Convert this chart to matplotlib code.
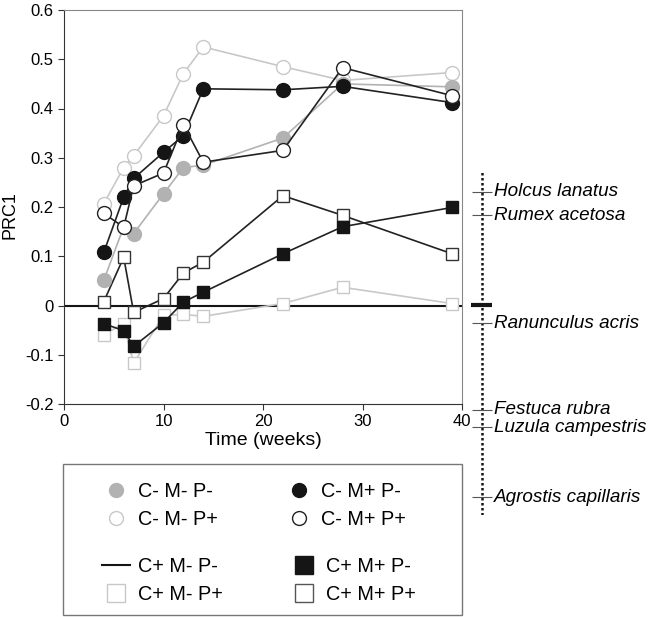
import matplotlib
matplotlib.use("Agg")
import matplotlib.pyplot as plt
from matplotlib.lines import Line2D
from matplotlib.patches import Rectangle

plt.rcParams["font.family"] = ["Liberation Sans", "DejaVu Sans"]

# sampling times (weeks)
weeks = [4, 6, 7, 10, 12, 14, 22, 28, 39]

# PRC1 scores per treatment (C+ M- P- is the reference, i.e. zero)
c0_m0_p0 = [0.051, 0.160, 0.146, 0.227, 0.280, 0.285, 0.340, 0.450, 0.444]
c0_m0_p1 = [0.207, 0.280, 0.304, 0.385, 0.471, 0.525, 0.485, 0.457, 0.473]
c0_m1_p0 = [0.108, 0.220, 0.258, 0.311, 0.345, 0.440, 0.438, 0.445, 0.412]
c0_m1_p1 = [0.187, 0.159, 0.243, 0.269, 0.367, 0.291, 0.315, 0.483, 0.426]
c1_m0_p1 = [-0.059, -0.037, -0.117, -0.020, -0.018, -0.022, 0.004, 0.037, 0.004]
c1_m1_p0 = [-0.037, -0.051, -0.083, -0.035, 0.007, 0.027, 0.105, 0.160, 0.199]
c1_m1_p1 = [0.008, 0.098, -0.014, 0.014, 0.066, 0.088, 0.223, 0.183, 0.105]

# species weights on the PRC1 axis
species = ["Holcus lanatus", "Rumex acetosa", "Ranunculus acris",
           "Festuca rubra", "Luzula campestris", "Agrostis capillaris"]
species_w = [1.13, 0.90, -0.18, -1.05, -1.22, -1.92]

W, H = 651, 617
fig = plt.figure(figsize=(W / 100, H / 100), dpi=100)
ax = fig.add_axes([64 / W, (H - 404) / H, 398 / W, 394 / H])

LG = "#c8c8c8"   # light grey
MG = "#b2b2b2"   # mid grey
BK = "#151515"

circ = dict(marker="o", ms=10, mew=1.0, lw=1.2)
sq = dict(marker="s", ms=8, mew=1.0, lw=1.2)

ax.axhline(0, color=BK, lw=1.5, zorder=2)
ax.plot(weeks, c1_m0_p1, color=LG, mfc="white", mec=LG, zorder=3, **sq)
ax.plot(weeks, c1_m1_p1, color="#222222", mfc="white", mec="#333333", zorder=4, **sq)
ax.plot(weeks, c1_m1_p0, color="#222222", mfc=BK, mec=BK, zorder=5, **sq)
ax.plot(weeks, c0_m0_p1, color=LG, mfc="white", mec=LG, zorder=3, **circ)
ax.plot(weeks, c0_m0_p0, color=MG, mfc=MG, mec=MG, zorder=4, **circ)
ax.plot(weeks, c0_m1_p0, color="#222222", mfc=BK, mec=BK, zorder=5, **circ)
ax.plot(weeks, c0_m1_p1, color="#222222", mfc="white", mec="#222222", zorder=6, **circ)

ax.set_xlim(0, 40)
ax.set_ylim(-0.2, 0.6)
ax.set_xticks([0, 10, 20, 30, 40])
ax.set_yticks([-0.2, -0.1, 0, 0.1, 0.2, 0.3, 0.4, 0.5, 0.6])
ax.set_yticklabels(["-0.2", "-0.1", "0", "0.1", "0.2", "0.3", "0.4", "0.5", "0.6"])
ax.tick_params(labelsize=12, length=4, width=0.8, color="#333333")
ax.set_xlabel("Time (weeks)", fontsize=14, labelpad=2)
ax.set_ylabel("PRC1", fontsize=13)
ax.yaxis.set_label_coords((18 - 64) / 398, (404 - 215) / 394)
for s in ("left", "bottom"):
    ax.spines[s].set_color("#333333")
for s in ("top", "right"):
    ax.spines[s].set_color("#888888")

# species weight axis on the right
sp = fig.add_axes([470 / W, (H - 515) / H, 181 / W, 345 / H])
sp.set_xlim(0, 181)
sp.set_ylim(-2.10, 1.35)
sp.axis("off")
sp.plot([12, 12], [-2.10, 1.35], color=BK, ls=(0, (1, 1)), lw=1.8)
sp.hlines(species_w, 2, 22, color="#555555", lw=0.8)
sp.hlines(0, 1, 22, color=BK, lw=3)
for name, w in zip(species, species_w):
    sp.text(24, w, name, fontsize=13.6, style="italic", va="center", ha="left",
            clip_on=False)

# legend frame
fig.add_artist(Rectangle((63 / W, (H - 615) / H), 399 / W, 151 / H,
                         transform=fig.transFigure, fill=False, ec="#777777", lw=1.0))


def h(**kw):
    return Line2D([], [], **kw)


top_handles = [
    h(ls="none", marker="o", ms=10, mfc=MG, mec=MG),
    h(ls="none", marker="o", ms=10, mfc="white", mec=LG),
    h(ls="none", marker="o", ms=10, mfc=BK, mec=BK),
    h(ls="none", marker="o", ms=10, mfc="white", mec="#222222"),
]
top_labels = ["C- M- P-", "C- M- P+", "C- M+ P-", "C- M+ P+"]
bot_handles = [
    h(color=BK, lw=1.5),
    h(ls="none", marker="s", ms=12.5, mfc="white", mec=LG),
    h(ls="none", marker="s", ms=12.5, mfc=BK, mec=BK),
    h(ls="none", marker="s", ms=12.5, mfc="white", mec="#555555"),
]
bot_labels = ["C+ M- P-", "C+ M- P+", "C+ M+ P-", "C+ M+ P+"]

leg_kw = dict(ncol=2, frameon=False, fontsize=14.3, loc="upper left",
              handlelength=1.4, handletextpad=0.4, columnspacing=3.4,
              labelspacing=0.45, borderpad=0, borderaxespad=0)
l1 = fig.legend(top_handles, top_labels, bbox_to_anchor=(102 / W, 1 - 482 / H), **leg_kw)
l2 = fig.legend(bot_handles, bot_labels, bbox_to_anchor=(102 / W, 1 - 557 / H), **leg_kw)

fig.savefig("out.png", dpi=100)
